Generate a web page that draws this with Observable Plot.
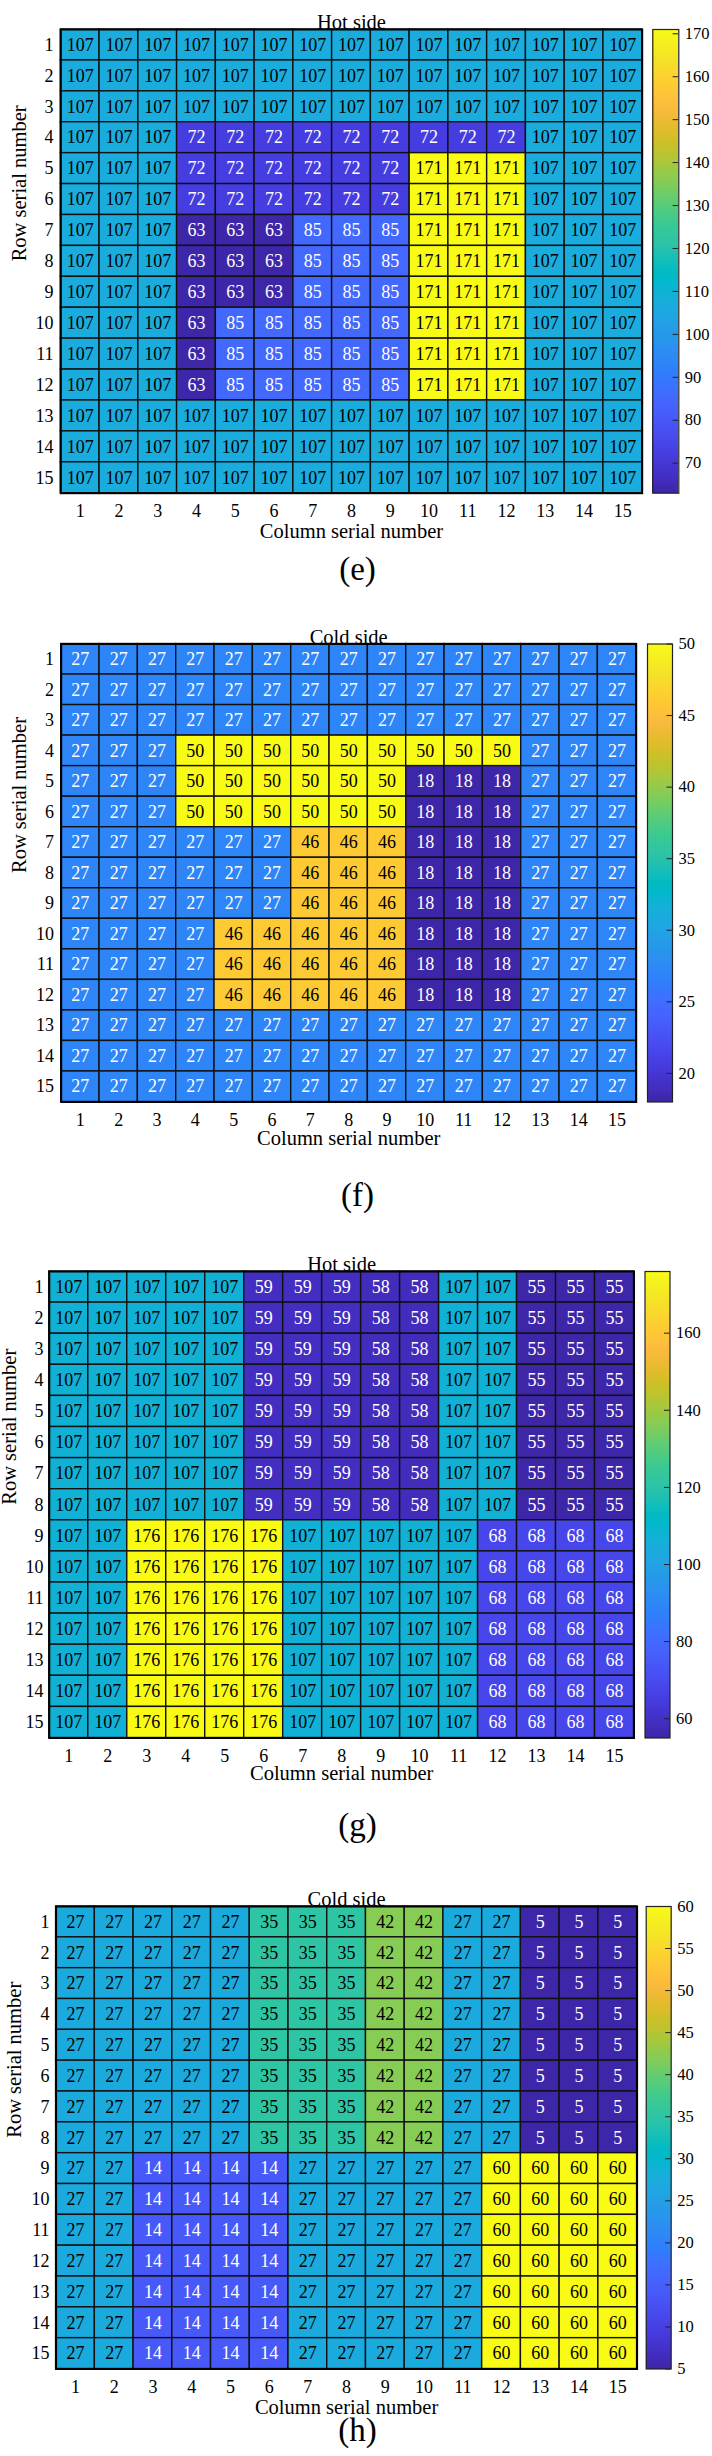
<!DOCTYPE html>
<html><head><meta charset="utf-8">
<script src="https://cdn.jsdelivr.net/npm/d3@7"></script>
<script src="https://cdn.jsdelivr.net/npm/@observablehq/plot@0.6"></script>
<style>
body{margin:0;background:#fff;}
#root{position:relative;width:712px;height:2456px;font-family:"Liberation Serif","Times New Roman",serif;}
#root svg{position:absolute;left:0;overflow:visible;}
</style></head><body><div id="root"></div>
<script>
// ---------- data ----------
const columns = d3.range(1, 16);
const rowsIdx = d3.range(1, 16);

const hotE = [
[107,107,107,107,107,107,107,107,107,107,107,107,107,107,107],
[107,107,107,107,107,107,107,107,107,107,107,107,107,107,107],
[107,107,107,107,107,107,107,107,107,107,107,107,107,107,107],
[107,107,107,72,72,72,72,72,72,72,72,72,107,107,107],
[107,107,107,72,72,72,72,72,72,171,171,171,107,107,107],
[107,107,107,72,72,72,72,72,72,171,171,171,107,107,107],
[107,107,107,63,63,63,85,85,85,171,171,171,107,107,107],
[107,107,107,63,63,63,85,85,85,171,171,171,107,107,107],
[107,107,107,63,63,63,85,85,85,171,171,171,107,107,107],
[107,107,107,63,85,85,85,85,85,171,171,171,107,107,107],
[107,107,107,63,85,85,85,85,85,171,171,171,107,107,107],
[107,107,107,63,85,85,85,85,85,171,171,171,107,107,107],
[107,107,107,107,107,107,107,107,107,107,107,107,107,107,107],
[107,107,107,107,107,107,107,107,107,107,107,107,107,107,107],
[107,107,107,107,107,107,107,107,107,107,107,107,107,107,107]];

const coldF = [
[27,27,27,27,27,27,27,27,27,27,27,27,27,27,27],
[27,27,27,27,27,27,27,27,27,27,27,27,27,27,27],
[27,27,27,27,27,27,27,27,27,27,27,27,27,27,27],
[27,27,27,50,50,50,50,50,50,50,50,50,27,27,27],
[27,27,27,50,50,50,50,50,50,18,18,18,27,27,27],
[27,27,27,50,50,50,50,50,50,18,18,18,27,27,27],
[27,27,27,27,27,27,46,46,46,18,18,18,27,27,27],
[27,27,27,27,27,27,46,46,46,18,18,18,27,27,27],
[27,27,27,27,27,27,46,46,46,18,18,18,27,27,27],
[27,27,27,27,46,46,46,46,46,18,18,18,27,27,27],
[27,27,27,27,46,46,46,46,46,18,18,18,27,27,27],
[27,27,27,27,46,46,46,46,46,18,18,18,27,27,27],
[27,27,27,27,27,27,27,27,27,27,27,27,27,27,27],
[27,27,27,27,27,27,27,27,27,27,27,27,27,27,27],
[27,27,27,27,27,27,27,27,27,27,27,27,27,27,27]];

const hotG = [
[107,107,107,107,107,59,59,59,58,58,107,107,55,55,55],
[107,107,107,107,107,59,59,59,58,58,107,107,55,55,55],
[107,107,107,107,107,59,59,59,58,58,107,107,55,55,55],
[107,107,107,107,107,59,59,59,58,58,107,107,55,55,55],
[107,107,107,107,107,59,59,59,58,58,107,107,55,55,55],
[107,107,107,107,107,59,59,59,58,58,107,107,55,55,55],
[107,107,107,107,107,59,59,59,58,58,107,107,55,55,55],
[107,107,107,107,107,59,59,59,58,58,107,107,55,55,55],
[107,107,176,176,176,176,107,107,107,107,107,68,68,68,68],
[107,107,176,176,176,176,107,107,107,107,107,68,68,68,68],
[107,107,176,176,176,176,107,107,107,107,107,68,68,68,68],
[107,107,176,176,176,176,107,107,107,107,107,68,68,68,68],
[107,107,176,176,176,176,107,107,107,107,107,68,68,68,68],
[107,107,176,176,176,176,107,107,107,107,107,68,68,68,68],
[107,107,176,176,176,176,107,107,107,107,107,68,68,68,68]];

const coldH = [
[27,27,27,27,27,35,35,35,42,42,27,27,5,5,5],
[27,27,27,27,27,35,35,35,42,42,27,27,5,5,5],
[27,27,27,27,27,35,35,35,42,42,27,27,5,5,5],
[27,27,27,27,27,35,35,35,42,42,27,27,5,5,5],
[27,27,27,27,27,35,35,35,42,42,27,27,5,5,5],
[27,27,27,27,27,35,35,35,42,42,27,27,5,5,5],
[27,27,27,27,27,35,35,35,42,42,27,27,5,5,5],
[27,27,27,27,27,35,35,35,42,42,27,27,5,5,5],
[27,27,14,14,14,14,27,27,27,27,27,60,60,60,60],
[27,27,14,14,14,14,27,27,27,27,27,60,60,60,60],
[27,27,14,14,14,14,27,27,27,27,27,60,60,60,60],
[27,27,14,14,14,14,27,27,27,27,27,60,60,60,60],
[27,27,14,14,14,14,27,27,27,27,27,60,60,60,60],
[27,27,14,14,14,14,27,27,27,27,27,60,60,60,60],
[27,27,14,14,14,14,27,27,27,27,27,60,60,60,60]];

const ticksE = [70,80,90,100,110,120,130,140,150,160,170];
const ticksF = [20,25,30,35,40,45,50];
const ticksG = [60,80,100,120,140,160];
const ticksH = [5,10,15,20,25,30,35,40,45,50,55,60];

const titles = ["Hot side", "Cold side", "Hot side", "Cold side"];
const letters = ["(e)", "(f)", "(g)", "(h)"];
const xTitle = "Column serial number";
const yTitle = "Row serial number";

// ---------- parula colormap (style) ----------
const parula = [
[0.2422,0.1504,0.6603],[0.2504,0.1650,0.7076],[0.2578,0.1818,0.7511],[0.2647,0.1978,0.7952],
[0.2706,0.2147,0.8364],[0.2751,0.2342,0.8710],[0.2783,0.2559,0.8991],[0.2803,0.2782,0.9221],
[0.2813,0.3006,0.9414],[0.2810,0.3228,0.9579],[0.2795,0.3447,0.9717],[0.2760,0.3667,0.9829],
[0.2699,0.3892,0.9906],[0.2602,0.4123,0.9952],[0.2440,0.4358,0.9988],[0.2206,0.4603,0.9973],
[0.1963,0.4847,0.9892],[0.1834,0.5074,0.9798],[0.1786,0.5289,0.9682],[0.1764,0.5499,0.9520],
[0.1687,0.5703,0.9359],[0.1540,0.5902,0.9218],[0.1460,0.6091,0.9079],[0.1380,0.6276,0.8973],
[0.1248,0.6459,0.8883],[0.1113,0.6635,0.8763],[0.0952,0.6798,0.8598],[0.0689,0.6948,0.8394],
[0.0297,0.7082,0.8163],[0.0036,0.7203,0.7917],[0.0067,0.7312,0.7660],[0.0433,0.7411,0.7394],
[0.0964,0.7500,0.7120],[0.1408,0.7584,0.6842],[0.1717,0.7670,0.6554],[0.1938,0.7758,0.6251],
[0.2161,0.7843,0.5923],[0.2470,0.7918,0.5567],[0.2906,0.7973,0.5188],[0.3406,0.8008,0.4789],
[0.3909,0.8029,0.4354],[0.4456,0.8024,0.3909],[0.5044,0.7993,0.3480],[0.5616,0.7942,0.3045],
[0.6174,0.7876,0.2612],[0.6720,0.7793,0.2227],[0.7242,0.7698,0.1910],[0.7738,0.7598,0.1646],
[0.8203,0.7498,0.1535],[0.8634,0.7406,0.1596],[0.9035,0.7330,0.1774],[0.9393,0.7288,0.2100],
[0.9728,0.7298,0.2394],[0.9956,0.7434,0.2371],[0.9970,0.7659,0.2199],[0.9952,0.7893,0.2028],
[0.9892,0.8136,0.1885],[0.9786,0.8386,0.1766],[0.9676,0.8639,0.1643],[0.9610,0.8890,0.1537],
[0.9597,0.9135,0.1423],[0.9628,0.9373,0.1265],[0.9691,0.9606,0.1064],[0.9769,0.9839,0.0805]];
const parulaHex = parula.map(([r,g,b]) => d3.rgb(r*255, g*255, b*255).formatHex());
const parulaInterp = d3.piecewise(d3.interpolateRgb, parulaHex);

function lum(c) {
  const o = d3.rgb(c);
  const f = v => { v /= 255; return v <= 0.04045 ? v/12.92 : Math.pow((v+0.055)/1.055, 2.4); };
  return 0.2126*f(o.r) + 0.7152*f(o.g) + 0.0722*f(o.b);
}

// ---------- layout (positions/styles) ----------
const panels = [
  {data: hotE,  ticks: ticksE, svgTop: 0,    svgH: 600, hm: [60.3, 641.7, 29, 492.7],    cb: [652.3, 678.3], xTitleDy: 45, letterY: 579,  yTitleX: 19, rowLabelRight: 53},
  {data: coldF, ticks: ticksF, svgTop: 600,  svgH: 625, hm: [60.7, 635.7, 643.5, 1101.5], cb: [647, 672],    xTitleDy: 43, letterY: 1205, yTitleX: 19, rowLabelRight: 53.5},
  {data: hotG,  ticks: ticksG, svgTop: 1225, svgH: 635, hm: [48.8, 633.5, 1271, 1737.5],  cb: [644.5, 669.5], xTitleDy: 42, letterY: 1835, yTitleX: 8.5, rowLabelRight: 43},
  {data: coldH, ticks: ticksH, svgTop: 1860, svgH: 596, hm: [55.6, 636.6, 1906, 2368.5],  cb: [645.7, 670.7], xTitleDy: 45, letterY: 2440, yTitleX: 14, rowLabelRight: 49}
];
const FONT = '"Liberation Serif","Times New Roman",serif';
const root = document.getElementById("root");

panels.forEach((p, i) => {
  const cells = [];
  p.data.forEach((row, r) => row.forEach((v, c) => cells.push({row: r + 1, col: c + 1, value: v})));
  const [mn, mx] = d3.extent(cells, d => d.value);
  const colorOf = v => parulaInterp((v - mn) / (mx - mn));
  const isLight = v => lum(colorOf(v)) > 0.3;
  const [L, R, T, B] = p.hm;
  const mTop = T - p.svgTop;
  const mBottom = p.svgTop + p.svgH - B;
  const centerX = (L + R) / 2;
  const colorScale = {type: "linear", domain: [mn, mx], interpolate: parulaInterp};

  const heat = Plot.plot({
    width: 712, height: p.svgH,
    marginLeft: L, marginRight: 712 - R, marginTop: mTop, marginBottom: mBottom,
    x: {type: "band", domain: columns, padding: 0, round: false, axis: null},
    y: {type: "band", domain: rowsIdx, padding: 0, round: false, axis: null},
    color: colorScale,
    style: {fontFamily: FONT, fontSize: "18px", color: "#000", background: "transparent"},
    marks: [
      Plot.cell(cells, {x: "col", y: "row", fill: "value", stroke: "#111", strokeWidth: 1.4, inset: 0}),
      Plot.text(cells.filter(d => isLight(d.value)), {x: "col", y: "row", text: d => String(d.value), fill: "#000", fontSize: 18}),
      Plot.text(cells.filter(d => !isLight(d.value)), {x: "col", y: "row", text: d => String(d.value), fill: "#fff", fontSize: 18}),
      Plot.frame({stroke: "#000", strokeWidth: 2}),
      Plot.axisX({anchor: "bottom", tickSize: 0, tickPadding: 11.5, fontSize: 18, label: null}),
      Plot.axisY({anchor: "left", tickSize: 0, tickPadding: L - p.rowLabelRight, fontSize: 18, label: null}),
      Plot.text([titles[i]], {frameAnchor: "top", dy: -15, fontSize: 20.5, fill: "#000"}),
      Plot.text([xTitle], {frameAnchor: "bottom", dy: p.xTitleDy, fontSize: 20.5, fill: "#000"}),
      Plot.text([yTitle], {frameAnchor: "left", dx: p.yTitleX - L, rotate: -90, fontSize: 20.5, fill: "#000"}),
      Plot.text([letters[i]], {frameAnchor: "bottom", dx: 357 - centerX, dy: p.letterY - B, fontSize: 33, fill: "#000"})
    ]
  });
  heat.style.top = p.svgTop + "px";
  root.appendChild(heat);

  const n = 256;
  const steps = d3.range(n).map(k => [mn + (mx - mn) * k / n, mn + (mx - mn) * (k + 1) / n]);
  const bar = Plot.plot({
    width: 712, height: p.svgH,
    marginLeft: p.cb[0], marginRight: 712 - p.cb[1], marginTop: mTop, marginBottom: mBottom,
    x: {domain: [0, 1], axis: null},
    y: {domain: [mn, mx], axis: null},
    color: colorScale,
    style: {fontFamily: FONT, fontSize: "16.5px", color: "#000", background: "transparent"},
    marks: [
      Plot.rect(steps, {x1: 0, x2: 1, y1: d => d[0], y2: d => d[1], fill: d => (d[0] + d[1]) / 2, inset: 0, shapeRendering: "crispEdges"}),
      Plot.ruleY(p.ticks, {x1: 0.78, x2: 1, stroke: "#222", strokeWidth: 1}),
      Plot.frame({stroke: "#222", strokeWidth: 1.2}),
      Plot.axisY(p.ticks, {anchor: "right", tickSize: 0, tickPadding: 6, fontSize: 16.5, label: null})
    ]
  });
  bar.style.top = p.svgTop + "px";
  root.appendChild(bar);
});
</script></body></html>
